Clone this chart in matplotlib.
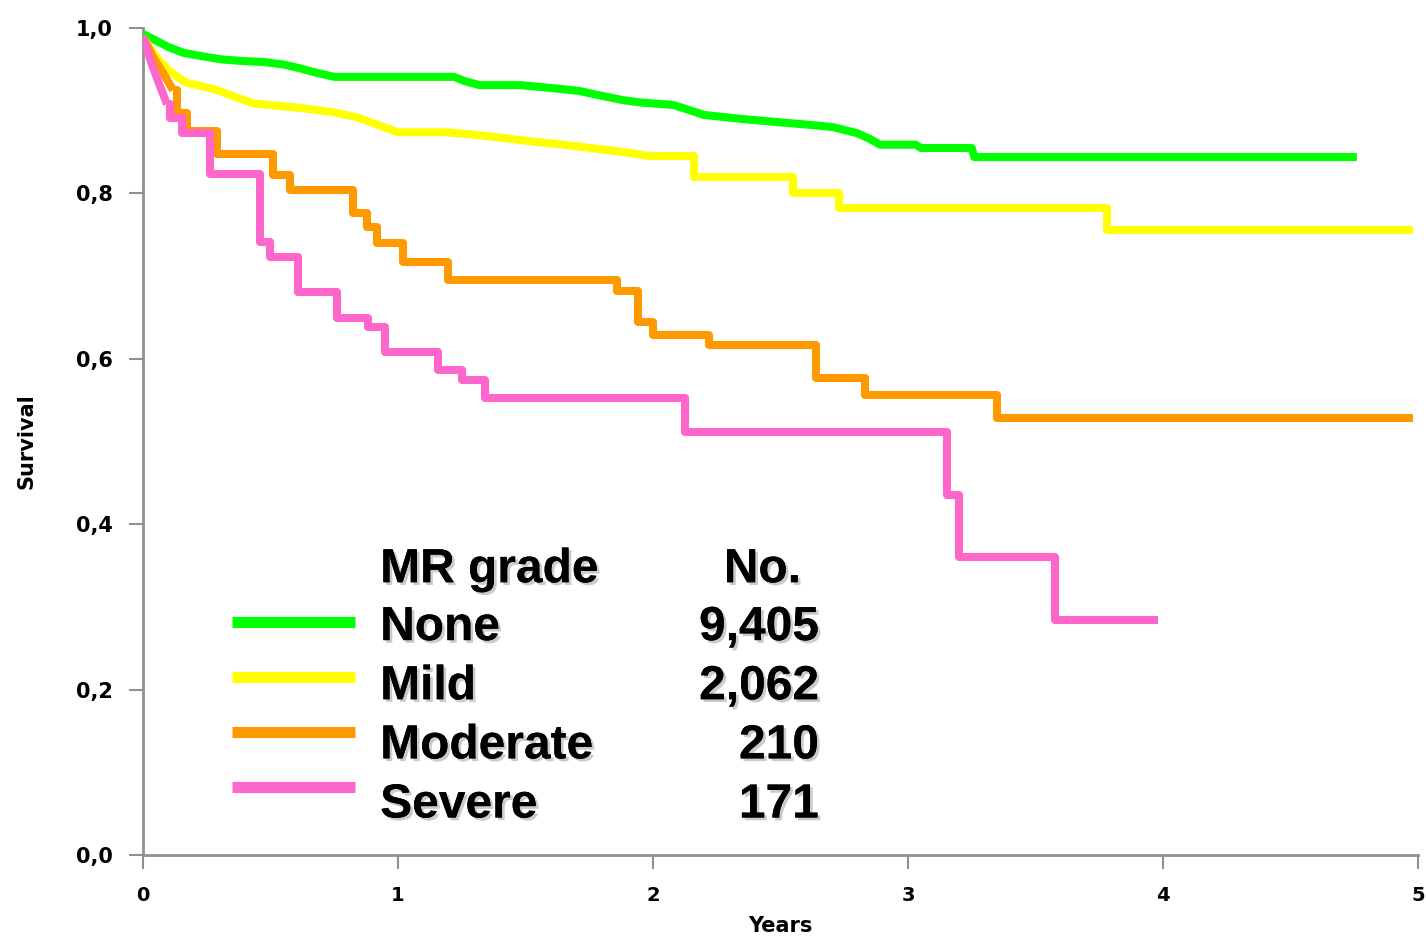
import matplotlib
matplotlib.use('Agg')
from matplotlib import pyplot as plt
import matplotlib.patheffects as pe

# Kaplan-Meier survival by MR grade (time in years, survival)
none_t = [0, 0.05, 0.10, 0.16, 0.25, 0.31, 0.40, 0.47, 0.55, 0.62, 0.68, 0.75, 1.22, 1.26, 1.32,
          1.48, 1.55, 1.65, 1.71, 1.80, 1.88, 1.95, 2.08, 2.14, 2.20, 2.35, 2.50, 2.65, 2.71, 2.76,
          2.80, 2.85, 2.89, 3.03, 3.05, 3.25, 3.26, 4.76]
none_s = [0.993, 0.985, 0.977, 0.970, 0.965, 0.962, 0.960, 0.959, 0.956, 0.951, 0.946, 0.941, 0.941,
          0.936, 0.931, 0.931, 0.929, 0.926, 0.924, 0.918, 0.913, 0.910, 0.907, 0.901, 0.895, 0.890,
          0.886, 0.882, 0.880, 0.876, 0.873, 0.866, 0.859, 0.859, 0.855, 0.855, 0.844, 0.844]

mild_t = [0, 0.03, 0.06, 0.10, 0.14, 0.17, 0.24, 0.29, 0.36, 0.43, 0.63, 0.75, 0.84, 0.92, 1.0,
          1.19, 1.30, 1.39, 1.52, 1.65, 1.78, 1.91, 1.99, 2.16, 2.55, 2.73, 3.78, 4.98]
mild_s = [0.989, 0.975, 0.962, 0.949, 0.940, 0.934, 0.929, 0.925, 0.917, 0.909, 0.903, 0.898, 0.892,
          0.883, 0.874, 0.874, 0.871, 0.868, 0.863, 0.859, 0.854, 0.849, 0.845, 0.820, 0.800, 0.782,
          0.756, 0.756]

moderate_t = [0, 0.04, 0.08, 0.118, 0.132, 0.174, 0.289, 0.511, 0.576, 0.825, 0.878, 0.918,
              1.02, 1.196, 1.86, 1.94, 2.0, 2.22, 2.64, 2.83, 3.35, 4.98]
moderate_s = [0.99, 0.965, 0.945, 0.925, 0.897, 0.875, 0.848, 0.822, 0.804, 0.776, 0.759, 0.740,
              0.717, 0.695, 0.682, 0.645, 0.629, 0.617, 0.577, 0.556, 0.528, 0.528]

severe_t = [0, 0.03, 0.06, 0.094, 0.105, 0.153, 0.263, 0.459, 0.498, 0.608, 0.760, 0.882, 0.949,
            1.157, 1.25, 1.341, 2.125, 3.153, 3.20, 3.576, 3.98]
severe_s = [0.99, 0.96, 0.935, 0.908, 0.891, 0.873, 0.824, 0.741, 0.723, 0.681, 0.649, 0.639, 0.608,
            0.586, 0.574, 0.553, 0.511, 0.435, 0.360, 0.284, 0.284]

# index where the curve stops looking smooth and turns into clear steps
smooth_until = [len(none_t) - 1, 22, 3, 3]

groups = ['None', 'Mild', 'Moderate', 'Severe']
counts = ['9,405', '2,062', '210', '171']
colors = ['#00ff00', '#ffff00', '#ff9900', '#ff66cc']
times = [none_t, mild_t, moderate_t, severe_t]
survs = [none_s, mild_s, moderate_s, severe_s]

x_ticks = [0, 1, 2, 3, 4, 5]
y_ticks = [0.0, 0.2, 0.4, 0.6, 0.8, 1.0]

fig = plt.figure(figsize=(14.26, 9.36), dpi=100)
ax = fig.add_axes([0.1003, 0.0865, 0.8941, 0.8835])

for t, s, c, k in zip(times, survs, colors, smooth_until):
    ax.plot(t[:k + 1], s[:k + 1], color=c, lw=5.8, solid_joinstyle='round',
            solid_capstyle='butt', zorder=3)
    if k < len(t) - 1:
        ax.plot(t[k:], s[k:], color=c, lw=5.8, drawstyle='steps-post',
                solid_joinstyle='round', solid_capstyle='butt', zorder=3)

ax.set_xlim(0, 5)
ax.set_ylim(0, 1)
ax.set_xticks(x_ticks)
ax.set_yticks(y_ticks)
ax.set_xticklabels([str(v) for v in x_ticks], fontsize=14, fontweight='bold')
ax.set_yticklabels([('%.1f' % v).replace('.', ',') for v in y_ticks], fontsize=15, fontweight='bold')
ax.tick_params(axis='both', direction='out', length=10, width=1.5, color='#909090', pad=12)
for side in ['top', 'right']:
    ax.spines[side].set_visible(False)
for side in ['left', 'bottom']:
    ax.spines[side].set_color('#909090')
    ax.spines[side].set_linewidth(2)

ax.set_ylabel('Survival', fontsize=15, fontweight='bold', labelpad=28)
ax.set_xlabel('Years', fontsize=15, fontweight='bold', labelpad=8)

# legend drawn as a small table in data coordinates
shadow = [pe.withSimplePatchShadow(offset=(2, -2), shadow_rgbFace='#999999', alpha=0.5), pe.Normal()]
font = dict(fontsize=34.5, fontweight='bold', family='Liberation Sans', va='center')
ax.text(0.93, 0.345, 'MR grade', ha='left', path_effects=shadow, **font)
ax.text(2.58, 0.345, 'No.', ha='right', path_effects=shadow, **font)
for i, (g, n, c) in enumerate(zip(groups, counts, colors)):
    yy = 0.275 - i * 0.0715
    ly = 0.2817 - i * 0.0665
    ax.plot([0.35, 0.83], [ly, ly], color=c, lw=8, solid_capstyle='butt')
    ax.text(0.93, yy, g, ha='left', path_effects=shadow, **font)
    ax.text(2.65, yy, n, ha='right', path_effects=shadow, **font)

fig.savefig('out.png', dpi=100)
